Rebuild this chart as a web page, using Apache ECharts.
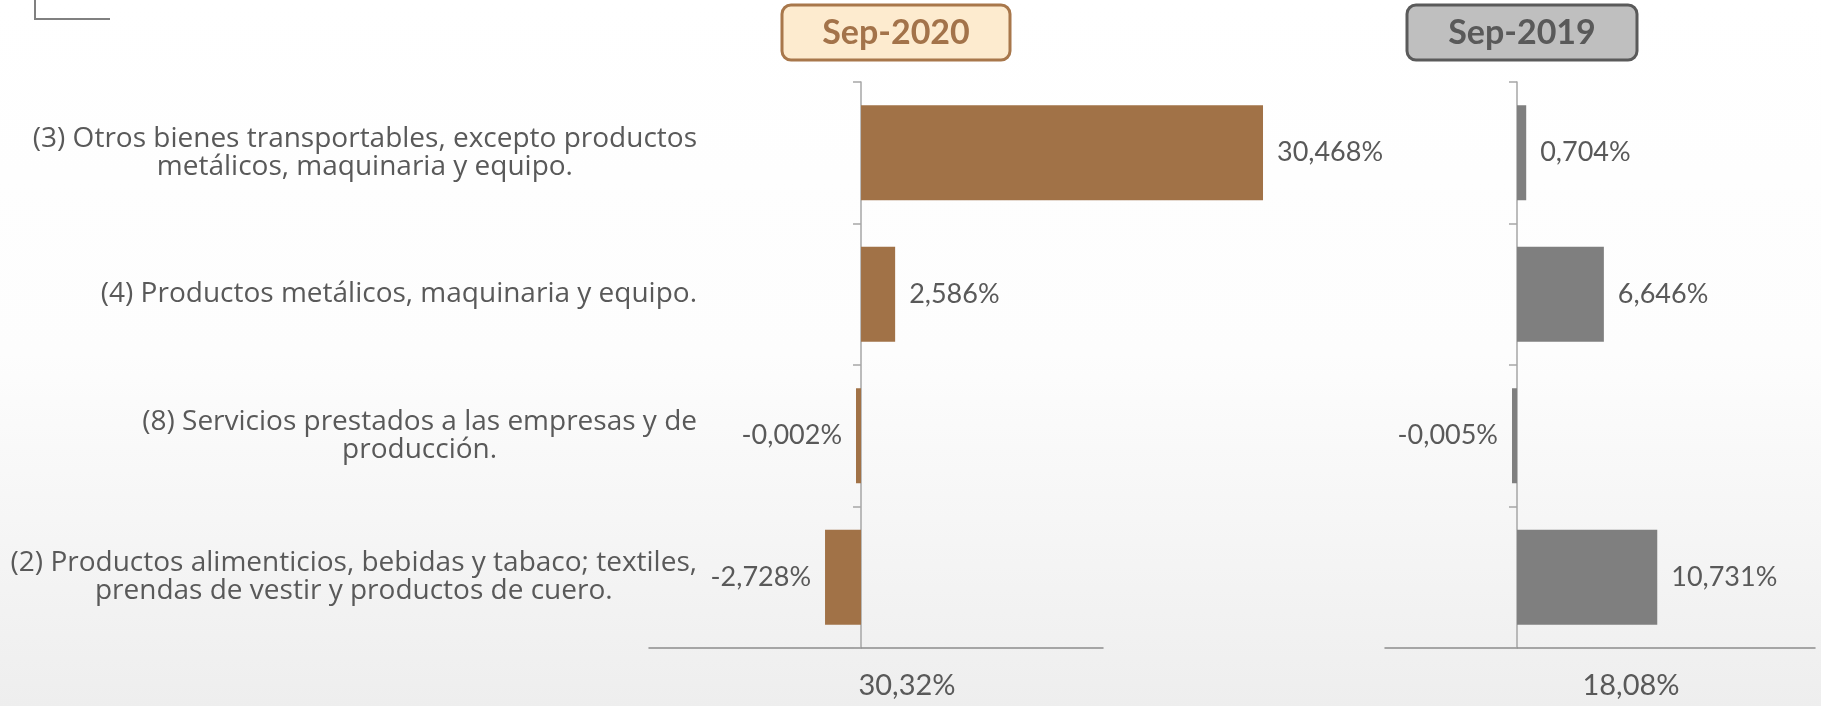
<!DOCTYPE html>
<html>
<head>
<meta charset="utf-8">
<script src="https://cdn.jsdelivr.net/npm/echarts@6/dist/echarts.min.js"></script>
<style>
html,body{margin:0;padding:0;background:#fff;}
#c{width:1821px;height:706px;}
</style>
</head>
<body>
<div id="c"></div>
<script>
// ---- data ----
const categories = [
  '(3) Otros bienes transportables, excepto productos\nmetálicos, maquinaria y equipo.',
  '(4) Productos metálicos, maquinaria y equipo.',
  '(8) Servicios prestados a las empresas y de\nproducción.',
  '(2) Productos alimenticios, bebidas y tabaco; textiles,\nprendas de vestir y productos de cuero.'
];
const periods = ['Sep-2020', 'Sep-2019'];
const values2020 = [30.468, 2.586, -0.002, -2.728];
const values2019 = [0.704, 6.646, -0.005, 10.731];
const totals = [30.32, 18.08];

// ---- helpers ----
const FONT = 'Lato, "Open Sans", "DejaVu Sans", sans-serif';
const CAT_FONT = '"Open Sans", Lato, "DejaVu Sans", sans-serif';
const TEXT = '#595959';
const fmtPct = (v, d) => v.toFixed(d).replace('.', ',') + '%';
const toItems = arr => arr.map(v => ({ value: v, label: { position: v < 0 ? 'left' : 'right' } }));

const chart = echarts.init(document.getElementById('c'), null, { renderer: 'canvas' });

function xAxisCfg(idx, min, max, total) {
  return {
    gridIndex: idx, type: 'value', min: min, max: max,
    axisLabel: { show: false }, axisTick: { show: false }, splitLine: { show: false },
    axisLine: { show: true, lineStyle: { color: '#8c8c8c', width: 1.5 } },
    name: fmtPct(total, 2), nameLocation: 'middle', nameGap: 23,
    nameTextStyle: { fontFamily: FONT, fontSize: 29, color: TEXT, padding: [0, 0, 0, 62] }
  };
}
function yAxisCfg(idx, showLabels) {
  return {
    gridIndex: idx, type: 'category', data: categories, inverse: true,
    axisLine: { show: true, onZero: true, lineStyle: { color: '#a6a6a6', width: 1.5 } },
    axisTick: { show: true, length: 8, lineStyle: { color: '#a6a6a6', width: 1.5 } },
    splitLine: { show: false },
    axisLabel: {
      show: showLabels, margin: -48, interval: 0,
      formatter: v => v.split('\n').map(s => '{c|' + s + '}').join('\n'),
      rich: { c: { align: 'center', fontFamily: CAT_FONT, fontSize: 28, color: TEXT, lineHeight: 28 } }
    }
  };
}
function seriesCfg(idx, vals, color) {
  return {
    type: 'bar', xAxisIndex: idx, yAxisIndex: idx, data: toItems(vals),
    barWidth: 95, barMinHeight: 5, clip: false,
    itemStyle: { color: color },
    label: { show: true, position: 'right', distance: 14, fontFamily: FONT, fontSize: 27, color: TEXT,
             formatter: p => fmtPct(p.value, 3) }
  };
}
function boxCfg(x, w, fill, stroke, txtColor, text) {
  return {
    type: 'group', children: [
      { type: 'rect', shape: { x: x, y: 5, width: w, height: 55, r: 9 },
        style: { fill: fill, stroke: stroke, lineWidth: 3 } },
      { type: 'text', x: x + w / 2, y: 33,
        style: { text: text, fill: txtColor, font: 'bold 34px ' + FONT, align: 'center', verticalAlign: 'middle' } }
    ]
  };
}

const option = {
  animation: false,
  backgroundColor: { type: 'linear', x: 0, y: 0, x2: 0, y2: 1,
    colorStops: [{ offset: 0, color: '#ffffff' }, { offset: 0.5, color: '#fdfdfd' }, { offset: 1, color: '#eeeeee' }] },
  grid: [
    { left: 649, width: 454, top: 82, height: 566, outerBoundsMode: 'none', containLabel: false },
    { left: 1385, width: 430, top: 82, height: 566, outerBoundsMode: 'none', containLabel: false }
  ],
  xAxis: [xAxisCfg(0, -16.07, 18.34, totals[0]), xAxisCfg(1, -10.1, 22.8, totals[1])],
  yAxis: [yAxisCfg(0, true), yAxisCfg(1, false)],
  series: [seriesCfg(0, values2020, '#A17247'), seriesCfg(1, values2019, '#7F7F7F')],
  graphic: [
    { type: 'polyline', shape: { points: [[35, 0], [35, 19], [110, 19]] }, style: { stroke: '#808080', lineWidth: 2, fill: null } },
    boxCfg(782, 228, '#FDEBCF', '#A8774B', '#A3734A', periods[0]),
    boxCfg(1407, 230, '#BFBFBF', '#5A5A5A', '#595959', periods[1])
  ]
};
chart.setOption(option);
</script>
</body>
</html>
